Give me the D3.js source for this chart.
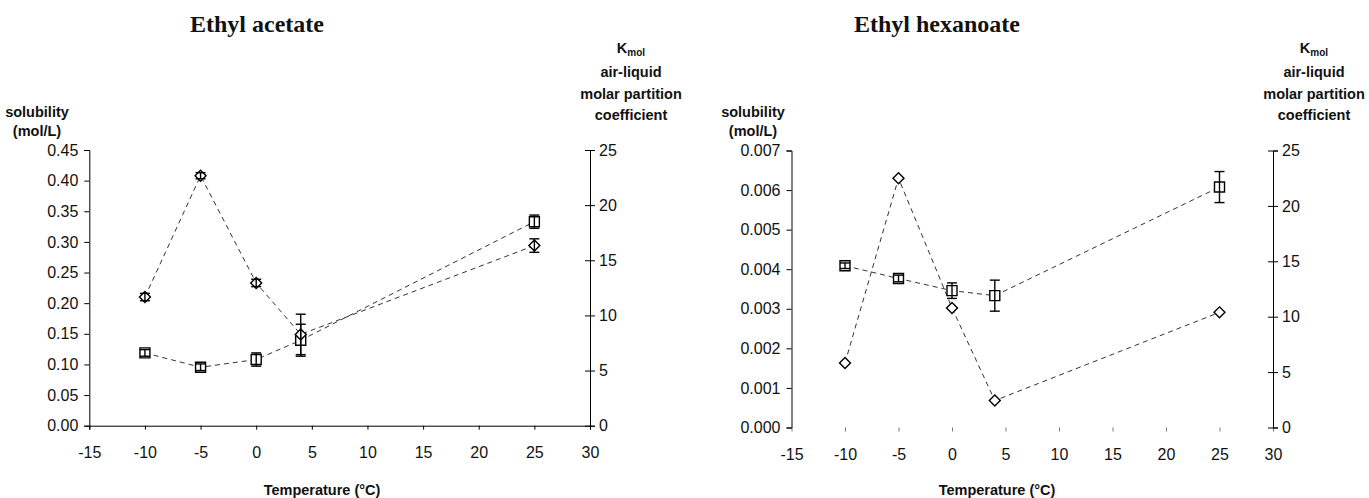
<!DOCTYPE html>
<html>
<head>
<meta charset="utf-8">
<script src="https://cdn.jsdelivr.net/npm/d3@7"></script>
<style>
  body { margin: 0; background: #fff; }
  text { font-family: "Liberation Sans", Arial, sans-serif; fill: #111; }
  .title { font-family: "Liberation Serif", "Times New Roman", serif; font-weight: bold; font-size: 24px; }
  .label { font-weight: bold; font-size: 14.5px; }
</style>
</head>
<body>
<div id="chart"></div>
<script>
// Data
const temps = [-10, -5, 0, 4, 25];
const xTicks = [-15, -10, -5, 0, 5, 10, 15, 20, 25, 30];
const kTicks = [0, 5, 10, 15, 20, 25];

const acetateSol = [0.210, 0.408, 0.233, 0.149, 0.294];
const acetateSolErr = [0.006, 0.005, 0.006, 0.033, 0.011];
const acetateK = [6.6, 5.3, 6.0, 7.75, 18.5];
const acetateKErr = [0.3, 0.3, 0.6, 1.45, 0.6];
const acetateSolTicks = [0, 0.05, 0.10, 0.15, 0.20, 0.25, 0.30, 0.35, 0.40, 0.45];

const hexanoateSol = [0.00163, 0.0063, 0.00302, 0.00068, 0.00291];
const hexanoateSolErr = [0, 0, 0, 0, 0];
const hexanoateK = [14.6, 13.45, 12.35, 11.9, 21.7];
const hexanoateKErr = [0.25, 0.3, 0.7, 1.4, 1.4];
const hexanoateSolTicks = [0, 0.001, 0.002, 0.003, 0.004, 0.005, 0.006, 0.007];

const svg = d3.select("#chart")
  .append("svg")
    .attr("width", 1369)
    .attr("height", 498);

function drawPanel(p) {
  const g = svg.append("g");

  const x = d3.scaleLinear().domain([-15, 30]).range([p.left, p.right]);
  const yL = d3.scaleLinear().domain([0, p.solMax]).range([p.bottom, p.top]);
  const yR = d3.scaleLinear().domain([0, 25]).range([p.bottom, p.top]);

  // X axis (plain hyphen for negatives, like the original)
  const xAxis = g.append("g")
    .attr("transform", `translate(0,${p.bottom})`)
    .call(d3.axisBottom(x).tickValues(xTicks).tickSizeOuter(0).tickSize(4).tickPadding(17).tickFormat(d => String(d)));
  if (!p.xLine) {
    xAxis.select(".domain").remove();
    xAxis.selectAll(".tick line").attr("stroke", "#777");
  }

  // Left axis
  g.append("g")
    .attr("transform", `translate(${p.left},0)`)
    .call(d3.axisLeft(yL).tickValues(p.solTicks).tickSizeOuter(0).tickSize(5).tickPadding(6).tickFormat(d3.format(p.fmt)));

  // Right axis (ticks cross the line)
  const rAxis = g.append("g")
    .attr("transform", `translate(${p.right},0)`)
    .call(d3.axisRight(yR).tickValues(kTicks).tickSizeOuter(0).tickSize(5).tickPadding(4));
  rAxis.selectAll(".tick line").attr("x1", -5);

  g.selectAll(".tick text").attr("fill", "#111").style("font-size", "16px");
  g.selectAll(".domain, .tick line").attr("stroke-width", 1);

  // Dashed connecting lines
  const lineSol = d3.line().x((d, i) => x(temps[i])).y(d => yL(d));
  const lineK = d3.line().x((d, i) => x(temps[i])).y(d => yR(d));
  g.append("path").datum(p.sol).attr("d", lineSol)
    .attr("fill", "none").attr("stroke", "#333").attr("stroke-width", 1).attr("stroke-dasharray", "5,4");
  g.append("path").datum(p.k).attr("d", lineK)
    .attr("fill", "none").attr("stroke", "#333").attr("stroke-width", 1).attr("stroke-dasharray", "5,4");

  // Markers
  const square = d3.symbol().type(d3.symbolSquare).size(100);
  const diamond = d3.symbol().type(d3.symbolSquare).size(60);

  g.selectAll(".sq").data(p.k).join("path")
    .attr("d", square)
    .attr("transform", (d, i) => `translate(${x(temps[i])},${yR(d)})`)
    .attr("fill", "#fff").attr("stroke", "#000").attr("stroke-width", 1.4);

  g.selectAll(".dm").data(p.sol).join("path")
    .attr("d", diamond)
    .attr("transform", (d, i) => `translate(${x(temps[i])},${yL(d)}) rotate(45)`)
    .attr("fill", "#fff").attr("stroke", "#000").attr("stroke-width", 1.4);

  // Error bars
  function errBars(vals, errs, y) {
    vals.forEach((v, i) => {
      if (!errs[i]) return;
      const cx = x(temps[i]);
      const y1 = y(v - errs[i]), y2 = y(v + errs[i]);
      g.append("line").attr("x1", cx).attr("x2", cx).attr("y1", y1).attr("y2", y2)
        .attr("stroke", "#000").attr("stroke-width", 1.4);
      [y1, y2].forEach(yy => g.append("line")
        .attr("x1", cx - 5).attr("x2", cx + 5).attr("y1", yy).attr("y2", yy)
        .attr("stroke", "#000").attr("stroke-width", 1.4));
    });
  }
  errBars(p.sol, p.solErr, yL);
  errBars(p.k, p.kErr, yR);

  // Title
  svg.append("text").attr("class", "title")
    .attr("x", p.titleX).attr("y", 32)
    .attr("text-anchor", "middle")
    .text(p.title);

  // Left axis label
  svg.append("text").attr("class", "label")
    .attr("x", p.solX).attr("y", 117).attr("text-anchor", "middle").text("solubility");
  svg.append("text").attr("class", "label")
    .attr("x", p.solX).attr("y", 136).attr("text-anchor", "middle").text("(mol/L)");

  // Right axis label
  const kl = svg.append("text").attr("class", "label")
    .attr("x", p.kX).attr("y", 53).attr("text-anchor", "middle");
  kl.append("tspan").text("K");
  kl.append("tspan").attr("dy", 3).style("font-size", "10px").text("mol");
  ["air-liquid", "molar partition", "coefficient"].forEach((t, i) => {
    svg.append("text").attr("class", "label")
      .attr("x", p.kX).attr("y", [77, 99, 120][i]).attr("text-anchor", "middle").text(t);
  });

  // X axis label
  svg.append("text").attr("class", "label")
    .attr("x", p.xTitleX).attr("y", 495).attr("text-anchor", "middle")
    .text("Temperature (°C)");
}

drawPanel({
  title: "Ethyl acetate", titleX: 257,
  left: 89.3, right: 590, top: 150, bottom: 425.7,
  solMax: 0.45, solTicks: acetateSolTicks, fmt: ".2f",
  sol: acetateSol, solErr: acetateSolErr, k: acetateK, kErr: acetateKErr,
  xLine: true, solX: 37, kX: 631, xTitleX: 322
});

drawPanel({
  title: "Ethyl hexanoate", titleX: 937,
  left: 791.5, right: 1273, top: 150.5, bottom: 427.5,
  solMax: 0.007, solTicks: hexanoateSolTicks, fmt: ".3f",
  sol: hexanoateSol, solErr: hexanoateSolErr, k: hexanoateK, kErr: hexanoateKErr,
  xLine: false, solX: 753, kX: 1314, xTitleX: 997
});
</script>
</body>
</html>
